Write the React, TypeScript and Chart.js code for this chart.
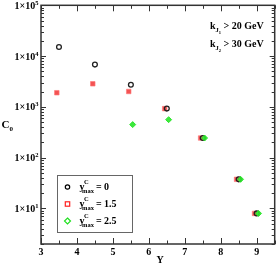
import React, { useEffect, useRef } from "react";
import { Chart, registerables } from "chart.js";

Chart.register(...registerables);

// ---- data ----
const xYmax0 = [3.5, 4.5, 5.5, 6.5, 7.5, 8.5, 9.0];
const c0Ymax0 = [15100, 6800, 2720, 925, 244, 37.5, 8.0];
const xYmax15 = [3.44, 4.44, 5.44, 6.44, 7.44, 8.44, 8.94];
const c0Ymax15 = [1900, 2850, 2010, 925, 244, 37.5, 8.0];
const xYmax25 = [5.55, 6.55, 7.55, 8.55, 9.05];
const c0Ymax25 = [448, 561, 244, 37.5, 8.0];

const xTickLabels = [3, 4, 5, 6, 7, 8, 9];
const yTickExponents = [1, 2, 3, 4, 5];
const legendLabels = ["= 0", "= 1.5", "= 2.5"];
const cutLabels = [
  { k: "J", idx: "1", rest: "> 20 GeV" },
  { k: "J", idx: "2", rest: "> 30 GeV" },
];

const X_MIN = 3;
const X_MAX = 9.5;
const Y_MIN = 2;
const Y_MAX = 1e5;

const FONT = "'Liberation Serif', 'DejaVu Serif', serif";
const f = (px: number) => `bold ${px}px ${FONT}`;

function toPts(xs: number[], ys: number[]) {
  return xs.map((x, i) => ({ x, y: ys[i] }));
}

const framePlugin = {
  id: "frame",
  afterDatasetsDraw(chart: any) {
    const ctx: CanvasRenderingContext2D = chart.ctx;
    const { left, right, top, bottom } = chart.chartArea;
    const xs = chart.scales.x;
    const ys = chart.scales.y;
    ctx.save();
    // frame
    ctx.strokeStyle = "#333";
    ctx.lineWidth = 1.5;
    ctx.strokeRect(left, top, right - left, bottom - top);

    // x ticks (bottom + top, inward)
    ctx.lineWidth = 1;
    ctx.strokeStyle = "#333";
    for (let v = X_MIN; v <= X_MAX + 1e-9; v += 0.5) {
      const px = Math.round(xs.getPixelForValue(v)) + 0.5;
      const major = Math.abs(v - Math.round(v)) < 1e-9;
      const len = major ? 6 : 3.5;
      ctx.beginPath();
      ctx.moveTo(px, bottom);
      ctx.lineTo(px, bottom - len);
      ctx.moveTo(px, top);
      ctx.lineTo(px, top + len);
      ctx.stroke();
    }
    // y ticks (left + right, inward)
    for (let e = 0; e <= 5; e++) {
      for (let m = 1; m <= 9; m++) {
        const v = m * Math.pow(10, e);
        if (v < Y_MIN || v > Y_MAX) continue;
        const py = Math.round(ys.getPixelForValue(v)) + 0.5;
        const len = m === 1 ? 5 : 3;
        ctx.beginPath();
        ctx.moveTo(left, py);
        ctx.lineTo(left + len, py);
        ctx.moveTo(right, py);
        ctx.lineTo(right - len, py);
        ctx.stroke();
      }
    }

    ctx.fillStyle = "#000";
    // x tick labels
    ctx.textAlign = "center";
    ctx.textBaseline = "alphabetic";
    ctx.font = f(10);
    xTickLabels.forEach((t) => {
      ctx.fillText(String(t), xs.getPixelForValue(t), 255);
    });
    // x title
    ctx.font = f(10);
    ctx.fillText("Y", 160, 263);

    // y tick labels 1x10^n
    ctx.textAlign = "left";
    yTickExponents.forEach((e) => {
      const py = ys.getPixelForValue(Math.pow(10, e));
      ctx.font = f(10);
      const base = "1\u00d710";
      const wb = ctx.measureText(base).width;
      ctx.font = f(6.5);
      const we = ctx.measureText(String(e)).width;
      const x0 = 38.5 - wb - we;
      ctx.font = f(10);
      ctx.fillText(base, x0, py + 3.5);
      ctx.font = f(6.5);
      ctx.fillText(String(e), x0 + wb, py - 0.5);
    });

    // y title C_0
    ctx.font = f(11);
    ctx.fillText("C", 1.5, 128);
    const wc = ctx.measureText("C").width;
    ctx.font = f(7);
    ctx.fillText("0", 1.5 + wc, 131);

    // cut annotations
    cutLabels.forEach((c, i) => {
      const by = i === 0 ? 28.5 : 47;
      let x = 210;
      ctx.font = f(10);
      ctx.fillText("k", x, by);
      x += ctx.measureText("k").width;
      ctx.font = f(6.5);
      ctx.fillText(c.k, x, by + 3);
      x += ctx.measureText(c.k).width;
      ctx.font = f(4.5);
      ctx.fillText(c.idx, x, by + 5);
      x += ctx.measureText(c.idx).width + 2.5;
      ctx.font = f(10);
      ctx.fillText(c.rest, x, by);
    });

    // legend box
    ctx.strokeStyle = "#666";
    ctx.lineWidth = 1;
    ctx.strokeRect(57.5, 175.5, 75, 57);
    const rows = [187, 204, 221];
    rows.forEach((ry, i) => {
      const mx = 67.5;
      ctx.lineWidth = 1.2;
      if (i === 0) {
        ctx.strokeStyle = "#000";
        ctx.beginPath();
        ctx.arc(mx, ry, 2.2, 0, Math.PI * 2);
        ctx.stroke();
      } else if (i === 1) {
        ctx.strokeStyle = "#ff2020";
        ctx.strokeRect(mx - 2.2, ry - 2.2, 4.4, 4.4);
      } else {
        ctx.strokeStyle = "#20e020";
        ctx.beginPath();
        ctx.moveTo(mx, ry - 3);
        ctx.lineTo(mx + 3, ry);
        ctx.lineTo(mx, ry + 3);
        ctx.lineTo(mx - 3, ry);
        ctx.closePath();
        ctx.stroke();
      }
      ctx.fillStyle = "#000";
      let x = 79.5;
      ctx.font = f(10);
      ctx.fillText("y", x, ry + 2.5);
      x += ctx.measureText("y").width - 1;
      ctx.font = f(6.5);
      ctx.fillText("C", x + 0.5, ry - 3);
      ctx.fillText("max", x - 1.5, ry + 6);
      x += ctx.measureText("max").width - 1.5 + 2;
      ctx.font = f(10);
      ctx.fillText(legendLabels[i], x, ry + 2.5);
    });
    ctx.restore();
  },
};

export default function App() {
  const ref = useRef<HTMLCanvasElement | null>(null);
  useEffect(() => {
    document.body.style.margin = "0";
    const canvas = ref.current;
    if (!canvas) return;
    const chart = new Chart(canvas, {
      type: "scatter",
      data: {
        datasets: [
          {
            label: "ymax=2.5",
            data: toPts(xYmax25, c0Ymax25),
            pointStyle: "rectRot",
            pointRadius: 3,
            backgroundColor: "rgba(40,230,40,0.9)",
            borderColor: "rgba(40,230,40,0.9)",
            borderWidth: 1,
            order: 0,
          },
          {
            label: "ymax=0",
            data: toPts(xYmax0, c0Ymax0),
            pointStyle: "circle",
            pointRadius: 2.4,
            backgroundColor: "rgba(0,0,0,0)",
            borderColor: "#222",
            borderWidth: 1.3,
            order: 1,
          },
          {
            label: "ymax=1.5",
            data: toPts(xYmax15, c0Ymax15),
            pointStyle: "rect",
            pointRadius: 3.2,
            backgroundColor: "rgba(240,40,40,0.8)",
            borderColor: "rgba(255,120,120,0.8)",
            borderWidth: 0.8,
            order: 2,
          },
        ],
      },
      options: {
        animation: false,
        responsive: false,
        maintainAspectRatio: false,
        layout: { padding: { left: 41, right: 1, top: 5, bottom: 21 } },
        scales: {
          x: { type: "linear", min: X_MIN, max: X_MAX, display: false },
          y: { type: "logarithmic", min: Y_MIN, max: Y_MAX, display: false },
        },
        plugins: {
          legend: { display: false },
          tooltip: { enabled: false },
        },
      },
      plugins: [framePlugin],
    });
    return () => chart.destroy();
  }, []);
  return (
    <div style={{ width: 280, height: 265, background: "#fff" }}>
      <canvas ref={ref} width={280} height={265} style={{ display: "block" }} />
    </div>
  );
}
